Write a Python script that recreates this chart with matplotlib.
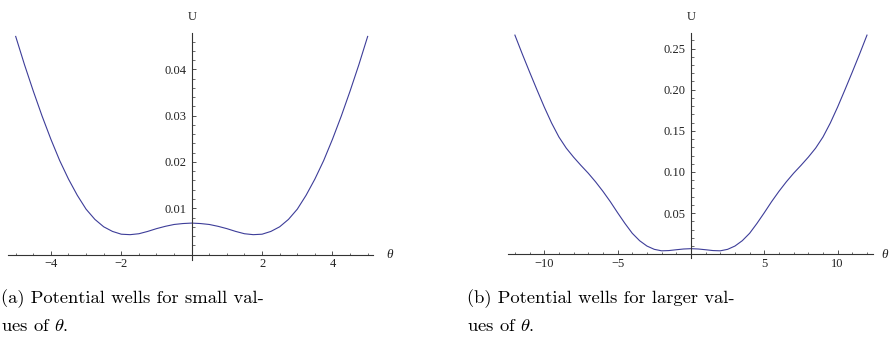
import matplotlib
matplotlib.use("Agg")
import matplotlib.pyplot as plt
from matplotlib.ticker import FixedLocator, FixedFormatter, MultipleLocator

plt.rcParams['mathtext.fontset'] = 'cm'

# panel (a): small theta
theta_a = [-5.0, -4.75, -4.5, -4.25, -4.0, -3.75, -3.5, -3.25, -3.0, -2.75, -2.5,
           -2.25, -2.0, -1.75, -1.5, -1.25, -1.0, -0.75, -0.5, -0.25, 0.0,
           0.25, 0.5, 0.75, 1.0, 1.25, 1.5, 1.75, 2.0, 2.25, 2.5,
           2.75, 3.0, 3.25, 3.5, 3.75, 4.0, 4.25, 4.5, 4.75, 5.0]
U_a = [0.0471, 0.0410, 0.0353, 0.0299, 0.0249, 0.0203, 0.0163, 0.0128, 0.0098, 0.0076, 0.0060,
       0.0050, 0.0044, 0.0043, 0.0045, 0.0050, 0.0056, 0.0061, 0.0065, 0.0067, 0.0068,
       0.0067, 0.0065, 0.0061, 0.0056, 0.0050, 0.0045, 0.0043, 0.0044, 0.0050, 0.0060,
       0.0076, 0.0098, 0.0128, 0.0163, 0.0203, 0.0249, 0.0299, 0.0353, 0.0410, 0.0471]

# panel (b): larger theta
theta_b = [-12.0, -11.5, -11.0, -10.5, -10.0, -9.5, -9.0, -8.5, -8.0, -7.5, -7.0, -6.5,
           -6.0, -5.5, -5.0, -4.5, -4.0, -3.5, -3.0, -2.5, -2.0, -1.5, -1.0, -0.5, 0.0,
           0.5, 1.0, 1.5, 2.0, 2.5, 3.0, 3.5, 4.0, 4.5, 5.0, 5.5, 6.0,
           6.5, 7.0, 7.5, 8.0, 8.5, 9.0, 9.5, 10.0, 10.5, 11.0, 11.5, 12.0]
U_b = [0.2663, 0.2435, 0.2215, 0.2000, 0.1790, 0.1595, 0.1425, 0.1290, 0.1180, 0.1080, 0.0985, 0.0880,
       0.0765, 0.0640, 0.0505, 0.0375, 0.0255, 0.0165, 0.0100, 0.0060, 0.0042, 0.0045, 0.0055, 0.0064, 0.0068,
       0.0064, 0.0055, 0.0045, 0.0042, 0.0060, 0.0100, 0.0165, 0.0255, 0.0375, 0.0505, 0.0640, 0.0765,
       0.0880, 0.0985, 0.1080, 0.1180, 0.1290, 0.1425, 0.1595, 0.1790, 0.2000, 0.2215, 0.2435, 0.2663]

xt_a = [-4, -2, 2, 4]
xl_a = ['\u22124', '\u22122', '2', '4']
yt_a = [0.01, 0.02, 0.03, 0.04]
yl_a = ['0.01', '0.02', '0.03', '0.04']

xt_b = [-10, -5, 5, 10]
xl_b = ['\u221210', '\u22125', '5', '10']
yt_b = [0.05, 0.10, 0.15, 0.20, 0.25]
yl_b = ['0.05', '0.10', '0.15', '0.20', '0.25']

cap_a = ['(a) Potential wells for small val-', r'ues of $\theta$.']
cap_b = ['(b) Potential wells for larger val-', r'ues of $\theta$.']

W, H = 889, 347
fig = plt.figure(figsize=(W / 100, H / 100), dpi=100)

line_col = '#3d3d99'
axis_col = '#333333'
tick_font = 'Liberation Serif'


def setup(ax, xt, xl, yt, yl, xminor, yminor):
    ax.patch.set_visible(False)
    for s in ['top', 'right']:
        ax.spines[s].set_visible(False)
    ax.spines['left'].set_position(('data', 0))
    ax.spines['bottom'].set_position(('data', 0))
    for s in ['left', 'bottom']:
        ax.spines[s].set_color(axis_col)
        ax.spines[s].set_linewidth(0.8)
    ax.xaxis.set_major_locator(FixedLocator(xt))
    ax.xaxis.set_major_formatter(FixedFormatter(xl))
    ax.yaxis.set_major_locator(FixedLocator(yt))
    ax.yaxis.set_major_formatter(FixedFormatter(yl))
    ax.xaxis.set_minor_locator(MultipleLocator(xminor))
    ax.yaxis.set_minor_locator(MultipleLocator(yminor))
    ax.tick_params(which='major', direction='in', length=3.2, width=0.6, color=axis_col,
                   labelsize=9, labelcolor='#222222')
    ax.tick_params(which='minor', direction='in', length=1.8, width=0.5, color=axis_col)
    ax.tick_params(axis='x', pad=2.6)
    ax.tick_params(axis='y', pad=3.6)
    for lab in ax.get_xticklabels() + ax.get_yticklabels():
        lab.set_fontfamily(tick_font)


# left panel
ax1 = fig.add_axes([8.3 / W, 1 - 260 / H, 365 / W, 227 / H])
ax1.plot(theta_a, U_a, color=line_col, lw=0.8)
ax1.set_xlim(-5.21, 5.16)
ax1.set_ylim(-0.00117, 0.04784)
setup(ax1, xt_a, xl_a, yt_a, yl_a, 0.5, 0.002)

# right panel
ax2 = fig.add_axes([508.3 / W, 1 - 258.3 / H, 365 / W, 225 / H])
ax2.plot(theta_b, U_b, color=line_col, lw=0.8)
ax2.set_xlim(-12.45, 12.43)
ax2.set_ylim(-0.0049, 0.2685)
setup(ax2, xt_b, xl_b, yt_b, yl_b, 1, 0.01)

# axis labels
fig.text(192 / W, 1 - 17 / H, 'U', family=tick_font, fontsize=9, ha='center', va='center', color='#222222')
fig.text(691 / W, 1 - 17 / H, 'U', family=tick_font, fontsize=9, ha='center', va='center', color='#222222')
fig.text(386 / W, 1 - 255 / H, '\u03b8', family=tick_font, style='italic', fontsize=9.5, ha='left', va='center', color='#222222')
fig.text(881 / W, 1 - 255 / H, '\u03b8', family=tick_font, style='italic', fontsize=9.5, ha='left', va='center', color='#222222')

# captions
for x0, cap in [(1 / W, cap_a), (467 / W, cap_b)]:
    fig.text(x0, 1 - 303 / H, cap[0], family='cmr10', fontsize=13.4, ha='left', va='baseline')
    fig.text(x0, 1 - 331 / H, cap[1], family='cmr10', fontsize=13.4, ha='left', va='baseline')

fig.savefig('out.png', dpi=100)
